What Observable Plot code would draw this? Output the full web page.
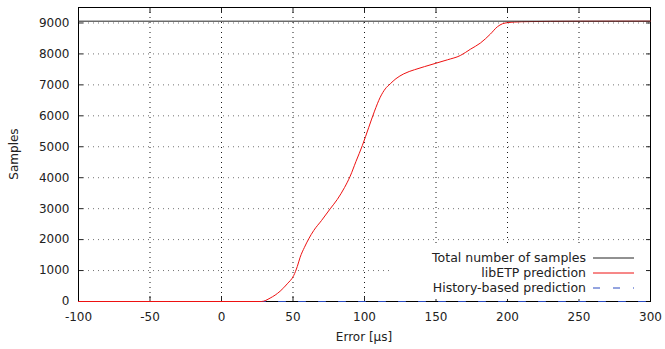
<!DOCTYPE html>
<html>
<head>
<meta charset="utf-8">
<script src="https://cdn.jsdelivr.net/npm/d3@7"></script>
<script src="https://cdn.jsdelivr.net/npm/@observablehq/plot@0.6"></script>
<style>
  html, body { margin: 0; padding: 0; background: #fff; }
</style>
</head>
<body>
<div id="chart"></div>
<script>
// ---- data ----
const xTicks = [-100, -50, 0, 50, 100, 150, 200, 250, 300];
const yTicks = [0, 1000, 2000, 3000, 4000, 5000, 6000, 7000, 8000, 9000];
const totalSamples = 9058;
const libErr = [-100, 28, 34, 41, 46, 50.5, 53, 55, 58, 61, 64.5, 70, 76, 81, 86, 90, 94, 98.5, 103, 107, 111, 114.5, 118, 122, 127.5, 135, 142, 150, 158, 167, 174, 181, 188, 193, 196.5, 200, 205, 215, 230, 251, 300];
const libSamples = [0, 0, 110, 333, 572, 840, 1130, 1430, 1750, 2025, 2294, 2620, 2995, 3300, 3680, 4050, 4520, 5040, 5630, 6150, 6600, 6870, 7034, 7200, 7357, 7490, 7590, 7700, 7810, 7948, 8150, 8350, 8640, 8880, 8975, 9010, 9030, 9045, 9052, 9056, 9058];
const histErr = [-100, 300];
const histSamples = [0, 0];
const seriesNames = ["Total number of samples", "libETP prediction", "History-based prediction"];

const libData = libErr.map((e, i) => ({e, s: libSamples[i]}));
const histData = histErr.map((e, i) => ({e, s: histSamples[i]}));
const totalData = [{e: xTicks[0], s: totalSamples}, {e: xTicks[xTicks.length - 1], s: totalSamples}];

const W = 665, H = 349;
const mL = 78, mR = 15, mT = 7, mB = 48;
const textColor = "#222";
const FONT = "DejaVu Sans, sans-serif";
const gridStyle = {stroke: "#000", strokeDasharray: "1,4", strokeWidth: 1};
const fmt = d => String(d);

const chart = Plot.plot({
  width: W, height: H,
  marginLeft: mL, marginRight: mR, marginTop: mT, marginBottom: mB,
  style: {fontFamily: FONT, fontSize: "12px", color: textColor, background: "#fff"},
  x: {domain: [-100, 300]},
  y: {domain: [0, 9500]},
  marks: [
    Plot.gridX(xTicks.slice(1, -1), {...gridStyle, strokeOpacity: 0.9}),
    Plot.gridY(yTicks.slice(1), {...gridStyle, strokeOpacity: 0.55}),
    Plot.axisX({ticks: xTicks, tickSize: 0, tickPadding: 11, label: null, fill: textColor, tickFormat: fmt}),
    Plot.axisY({ticks: yTicks, tickSize: 0, tickPadding: 9, label: null, fill: textColor, tickFormat: fmt}),
    Plot.axisX({ticks: xTicks, tickSize: -5, tickFormat: () => "", label: null}),
    Plot.axisX({ticks: xTicks, anchor: "top", tickSize: -5, tickFormat: () => "", label: null}),
    Plot.axisY({ticks: yTicks, tickSize: -5, tickFormat: () => "", label: null}),
    Plot.axisY({ticks: yTicks, anchor: "right", tickSize: -5, tickFormat: () => "", label: null}),
    Plot.frame({stroke: "#000", strokeWidth: 1}),
    Plot.line(histData, {x: "e", y: "s", stroke: "#2a4bc0", strokeWidth: 1, strokeDasharray: "7,13"}),
    Plot.line(libData, {x: "e", y: "s", stroke: "#ee1111", strokeWidth: 1, curve: "monotone-x"}),
    Plot.line(totalData, {x: "e", y: "s", stroke: "#222", strokeWidth: 1})
  ]
});

const svg = d3.select(chart);
// legend (white box hides the grid beneath)
const lg = svg.insert("g", "g[aria-label='frame']").attr("font-family", FONT).attr("font-size", 12.5);
lg.append("rect").attr("x", 393).attr("y", 246).attr("width", 253).attr("height", 53).attr("fill", "#fff");
const rows = [258, 273, 288];
const styles = [
  {stroke: "#222", dash: null},
  {stroke: "#ee1111", dash: null},
  {stroke: "#2a4bc0", dash: "7,13"}
];
seriesNames.forEach((name, i) => {
  lg.append("text").attr("x", 586).attr("y", rows[i]).attr("dy", "0.35em")
    .attr("text-anchor", "end").attr("fill", textColor).text(name);
  const l = lg.append("line").attr("x1", 593).attr("x2", 634).attr("y1", rows[i]).attr("y2", rows[i])
    .attr("stroke", styles[i].stroke).attr("stroke-width", 1);
  if (styles[i].dash) l.attr("stroke-dasharray", styles[i].dash);
});
// axis titles
svg.append("text").attr("x", mL + (W - mL - mR) / 2).attr("y", 337).attr("dy", "0.35em")
  .attr("text-anchor", "middle").attr("fill", textColor)
  .attr("font-family", FONT).attr("font-size", 12).text("Error [µs]");
svg.append("text").attr("transform", `translate(14,${mT + (H - mT - mB) / 2}) rotate(-90)`).attr("dy", "0.35em")
  .attr("text-anchor", "middle").attr("fill", textColor)
  .attr("font-family", FONT).attr("font-size", 12).text("Samples");

document.getElementById("chart").appendChild(chart);
</script>
</body>
</html>
